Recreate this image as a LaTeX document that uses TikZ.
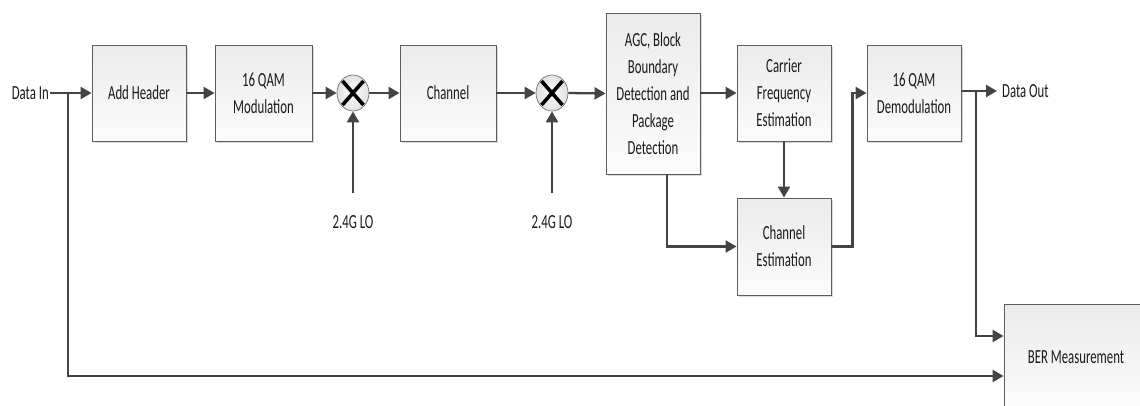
\documentclass[tikz,border=0pt]{standalone}
\usepackage{fontspec}
\setmainfont{Carlito}[FakeStretch=0.64]
\usetikzlibrary{arrows.meta,shapes.geometric,shadows,calc}
\definecolor{linec}{HTML}{444444}
\definecolor{boxborder}{HTML}{5E5E5E}
\definecolor{boxtop}{HTML}{EBEBEB}
\definecolor{boxbot}{HTML}{FCFCFC}
\definecolor{txt}{HTML}{1A1A1A}
\begin{document}
\begin{tikzpicture}[x=1pt,y=-1pt,
  every node/.style={font=\fontsize{20}{27}\selectfont, text=txt},
  blockbox/.style={rectangle, draw=boxborder, line width=0.9pt, top color=boxtop, bottom color=boxbot,
     align=center, inner sep=2pt,
     drop shadow={shadow xshift=2pt, shadow yshift=-2pt, fill=black!25, opacity=0.6}},
  mixer/.style={ellipse, draw=black!55, line width=0.7pt, inner color=white, outer color=black!12,
     minimum width=32pt, minimum height=36pt, inner sep=0pt,
     path picture={\draw[line width=3.6pt, black]
        ($(path picture bounding box.center)+(-10.5,-12)$) -- ($(path picture bounding box.center)+(10.5,12)$)
        ($(path picture bounding box.center)+(10.5,-12)$) -- ($(path picture bounding box.center)+(-10.5,12)$);}},
  lbl/.style={inner sep=0pt},
  arr/.style={draw=linec, line width=2.3pt, -{Triangle[length=11pt,width=12pt]}},
  wire/.style={draw=linec, line width=2.3pt}
]
\useasboundingbox (0,0) rectangle (1140,405);

\node[blockbox, minimum width=94pt, minimum height=96pt] (addh) at (139,93) {Add Header};
\node[blockbox, minimum width=97pt, minimum height=96pt] (qam) at (263.5,93) {16 QAM\\Modulation};
\node[mixer] (m1) at (353,93) {};
\node[blockbox, minimum width=96pt, minimum height=96pt] (chan) at (448,93) {Channel};
\node[mixer] (m2) at (552,93) {};
\node[blockbox, minimum width=94pt, minimum height=161pt] (agc) at (653,93.5) {AGC, Block\\Boundary\\Detection and\\Package\\Detection};
\node[blockbox, minimum width=94pt, minimum height=96pt] (cfe) at (784,93) {Carrier\\Frequency\\Estimation};
\node[blockbox, minimum width=94pt, minimum height=97pt] (chest) at (784,246.5) {Channel\\Estimation};
\node[blockbox, minimum width=94pt, minimum height=96pt] (demod) at (914,93) {16 QAM\\Demodulation};
\node[blockbox, minimum width=144pt, minimum height=106pt] (ber) at (1076,357) {BER Measurement};

\node[lbl, anchor=east, inner xsep=1pt] (din) at (50,93) {Data In};
\node[lbl, anchor=west, inner xsep=5pt] (dout) at (997,91) {Data Out};
\node[lbl] (lo1) at (353,222) {2.4G LO};
\node[lbl] (lo2) at (552,222) {2.4G LO};

\coordinate (lo1s) at (353,193);
\coordinate (lo2s) at (552,193);
\coordinate (b1) at (68,93);
\coordinate (b2) at (976,91);

\draw[arr] (din.east) -- (addh.west);
\draw[arr] (addh.east) -- (qam.west);
\draw[arr] (qam.east) -- (m1.west);
\draw[arr] (m1.east) -- (chan.west);
\draw[arr] (chan.east) -- (m2.west);
\draw[arr] (m2.east) -- (agc.west);
\draw[arr] (lo1s) -- (m1.south);
\draw[arr] (lo2s) -- (m2.south);
\draw[arr] (agc.east |- cfe.west) -- (cfe.west);
\draw[arr] ([xshift=14pt]agc.south) |- (chest.west);
\draw[arr] (cfe.south) -- (chest.north);
\draw[arr] (chest.east) -- ++(21,0) |- (demod.west);
\draw[arr] ([yshift=2pt]demod.east) -- (dout.west);
\draw[arr] (b2) |- ([yshift=21pt]ber.west);
\draw[arr] (b1) |- ([yshift=-19pt]ber.west);
\end{tikzpicture}
\end{document}
